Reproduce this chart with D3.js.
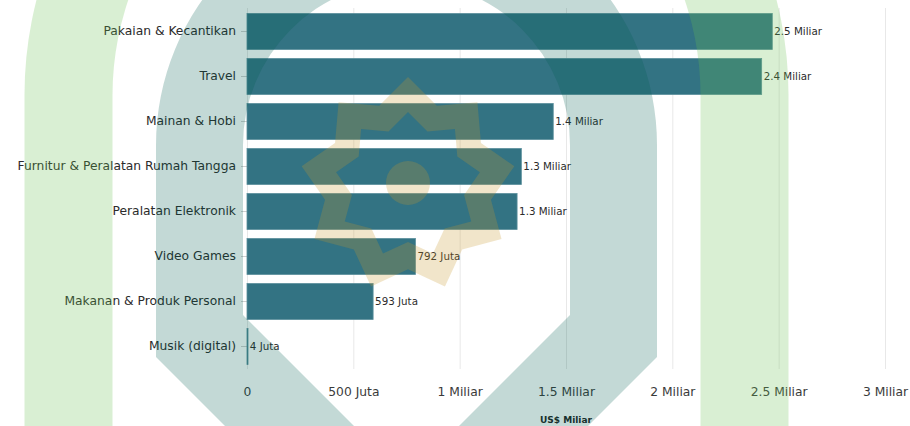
<!DOCTYPE html>
<html>
<head>
<meta charset="utf-8">
<script src="https://cdn.jsdelivr.net/npm/d3@7"></script>
<style>
  html, body { margin: 0; padding: 0; background: #ffffff; }
  svg { display: block; }
  text { font-family: "DejaVu Sans", Verdana, sans-serif; }
</style>
</head>
<body>
<svg id="chart" width="910" height="426"></svg>
<script>
// Nilai penjualan e-commerce per kategori (US$)
const categories = [
  "Pakaian & Kecantikan",
  "Travel",
  "Mainan & Hobi",
  "Furnitur & Peralatan Rumah Tangga",
  "Peralatan Elektronik",
  "Video Games",
  "Makanan & Produk Personal",
  "Musik (digital)"
];
const values = [2.47e9, 2.42e9, 1.44e9, 1.29e9, 1.27e9, 792e6, 593e6, 4e6];
const xTicks = [0, 5e8, 1e9, 1.5e9, 2e9, 2.5e9, 3e9];
const xTickLabels = ["0", "500 Juta", "1 Miliar", "1.5 Miliar", "2 Miliar", "2.5 Miliar", "3 Miliar"];
const axisTitle = "US$ Miliar";

const svg = d3.select("#chart");

const x = d3.scaleLinear().domain([0, 3e9]).range([247, 885]);
const y = d3.scaleBand().domain(categories).range([9, 369]).paddingInner(0.2).paddingOuter(0.1);

function fmtValue(v) {
  return v >= 1e9 ? (v / 1e9).toFixed(1) + " Miliar" : Math.round(v / 1e6) + " Juta";
}

// vertical gridlines
svg.append("g")
  .selectAll("line")
  .data(xTicks)
  .join("line")
  .attr("x1", d => x(d) + 0.5).attr("x2", d => x(d) + 0.5)
  .attr("y1", 8).attr("y2", 369)
  .attr("stroke", "#e8e8e8").attr("stroke-width", 1);

// category axis
const yAxis = svg.append("g")
  .attr("transform", `translate(${x(0)},0)`)
  .call(d3.axisLeft(y).tickSize(6).tickPadding(5));
yAxis.select(".domain").remove();
yAxis.selectAll(".tick line").attr("stroke", "#cfcfcf");
yAxis.selectAll(".tick text")
  .attr("fill", "#2b2b2b")
  .style("font-size", "12.3px")
  .style("font-family", "'DejaVu Sans', Verdana, sans-serif");

// value axis
const xAxis = svg.append("g")
  .attr("transform", "translate(0,383)")
  .call(d3.axisBottom(x).tickValues(xTicks)
    .tickFormat((d, i) => xTickLabels[i]).tickSize(0).tickPadding(4));
xAxis.select(".domain").remove();
xAxis.selectAll(".tick text")
  .attr("fill", "#3a3a3a")
  .style("font-size", "12.3px")
  .style("font-family", "'DejaVu Sans', Verdana, sans-serif");

svg.append("text")
  .attr("x", (x.range()[0] + x.range()[1]) / 2)
  .attr("y", 423)
  .attr("text-anchor", "middle")
  .attr("fill", "#222")
  .style("font-size", "9px")
  .style("font-weight", "bold")
  .text(axisTitle);

// bars
svg.append("g")
  .selectAll("rect")
  .data(values)
  .join("rect")
  .attr("x", x(0))
  .attr("y", (d, i) => y(categories[i]))
  .attr("width", d => Math.max(1, x(d) - x(0)))
  .attr("height", y.bandwidth())
  .attr("fill", "#337383")
  .attr("stroke", "#5b8f9c")
  .attr("stroke-width", 0.8);

// value labels
svg.append("g")
  .selectAll("text")
  .data(values)
  .join("text")
  .attr("x", d => x(d) + 2)
  .attr("y", (d, i) => y(categories[i]) + y.bandwidth() / 2)
  .attr("dy", "0.35em")
  .attr("fill", "#2b2b2b")
  .style("font-size", "10.3px")
  .text(d => fmtValue(d));

// emblem overlay
const mark = svg.append("g").style("pointer-events", "none");

// outer green ring
{
  const cx = 406.5, cy = 95, R = 382, r = 294, bottom = 520;
  const p = d3.path();
  p.moveTo(cx - R, bottom);
  p.lineTo(cx - R, cy);
  p.arc(cx, cy, R, Math.PI, 2 * Math.PI);
  p.lineTo(cx + R, bottom);
  p.lineTo(cx + r, bottom);
  p.lineTo(cx + r, cy);
  p.arc(cx, cy, r, 0, Math.PI, true);
  p.lineTo(cx - r, bottom);
  p.closePath();
  mark.append("path").attr("d", p.toString())
    .attr("fill", "rgb(104,190,78)").attr("fill-opacity", 0.25);
}

// teal arch with pointed base
{
  const cx = 406.5, cy = 145;
  function archPath(p, R, legEnd) {
    p.moveTo(cx - R, legEnd);
    p.lineTo(cx - R, cy);
    p.arc(cx, cy, R, Math.PI, 2 * Math.PI);
    p.lineTo(cx + R, legEnd);
    p.lineTo(cx, legEnd + R);
    p.closePath();
  }
  const p = d3.path();
  archPath(p, 250.5, 357);
  archPath(p, 163.5, 315);
  mark.append("path").attr("d", p.toString())
    .attr("fill-rule", "evenodd")
    .attr("fill", "rgb(0,94,81)").attr("fill-opacity", 0.235);
}

// nine-pointed star with centre disc
{
  const cx = 408, cy = 185, n = 9;
  function starPoints(R, ratio) {
    const pts = [];
    for (let k = 0; k < 2 * n; k++) {
      const a = -Math.PI / 2 + k * Math.PI / n;
      const rr = k % 2 === 0 ? R : R * ratio;
      pts.push([cx + rr * Math.cos(a), cy + rr * Math.sin(a)]);
    }
    return pts;
  }
  const line = d3.line().curve(d3.curveLinearClosed);
  const d = line(starPoints(108, 0.78)) + line(starPoints(73, 0.78));
  mark.append("path").attr("d", d)
    .attr("fill-rule", "evenodd")
    .attr("fill", "rgb(200,150,45)").attr("fill-opacity", 0.25);
  mark.append("circle").attr("cx", cx).attr("cy", 183).attr("r", 22)
    .attr("fill", "rgb(200,150,45)").attr("fill-opacity", 0.25);
}
</script>
</body>
</html>
